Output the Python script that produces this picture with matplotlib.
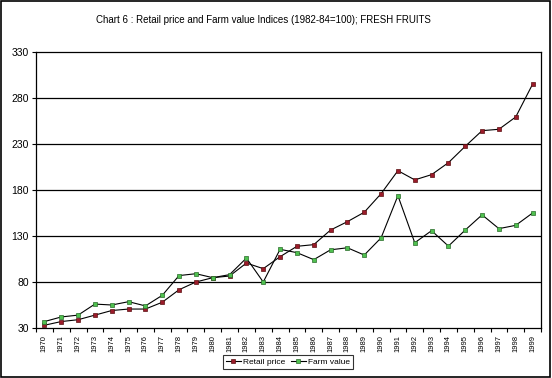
import matplotlib
matplotlib.use("Agg")
import matplotlib.pyplot as plt
from matplotlib.patches import Rectangle
import numpy as np

# --- données ---
annees = [str(a) for a in range(1970, 2000)]
prix_detail = [33, 37, 39, 44, 49, 50.6, 50.6, 58, 71.6, 80,
               84.7, 86.5, 100.6, 94.5, 107.5, 118.8, 120.6, 136.5, 145.6, 155.8,
               176, 201, 191, 196.7, 209.7, 227.5, 244.5, 246, 259.4, 295]
valeur_ferme = [37, 42, 44, 56, 55, 58.6, 54, 65.5, 87, 89,
                84.7, 88, 106, 80, 115.5, 111.9, 104.3, 115, 117.2, 109.3,
                128, 173.8, 122.7, 135.8, 119, 136.5, 153, 138, 141.6, 155]
graduations_y = [30, 80, 130, 180, 230, 280, 330]

plt.rcParams['font.family'] = ['Liberation Sans', 'DejaVu Sans']

fig = plt.figure(figsize=(5.52, 3.78), dpi=100)
ax = fig.add_axes([36 / 552, 50 / 378, 505 / 552, 276 / 378])

x = np.arange(len(annees))
ax.plot(x, prix_detail, '-s', color='black', linewidth=0.8, markersize=3.2,
        markerfacecolor='#9b1b2a', markeredgecolor='#5a1010', markeredgewidth=0.5,
        label='Retail price')
ax.plot(x, valeur_ferme, '-s', color='black', linewidth=0.8, markersize=3.2,
        markerfacecolor='#4fc04f', markeredgecolor='#2a6a2a', markeredgewidth=0.5,
        label='Farm value')

ax.set_xlim(-0.5, len(annees) - 0.5)
ax.set_ylim(30, 330)
ax.set_yticks(graduations_y)
ax.set_yticklabels([str(v) for v in graduations_y], fontsize=7.5)
for v in graduations_y[1:-1]:
    ax.axhline(v, color='black', linewidth=0.9, zorder=0)

ax.set_xticks(x)
ax.set_xticklabels(annees, rotation=90, fontsize=5.5)
ax.set_xticks(np.arange(-0.5, len(annees)), minor=True)
ax.tick_params(axis='x', which='major', length=0, pad=5)
ax.tick_params(axis='x', which='minor', length=3, width=0.8, direction='out')
ax.tick_params(axis='y', length=3, width=0.8, pad=2)
for s in ax.spines.values():
    s.set_linewidth(0.9)

fig.text(0.478, 0.948, 'Chart 6 : Retail price and Farm value Indices (1982-84=100); FRESH FRUITS',
         ha='center', va='center', fontsize=7)

leg = fig.legend(loc='center', bbox_to_anchor=(288 / 552, 1 - 362 / 378), ncol=2,
                 fontsize=6, frameon=True, fancybox=False, edgecolor='black',
                 handlelength=1.8, columnspacing=0.6, handletextpad=0.3,
                 borderpad=0.35, borderaxespad=0.2, markerscale=0.9)
leg.get_frame().set_linewidth(0.8)

fig.patches.append(Rectangle((0.002, 0.003), 0.995, 0.994, transform=fig.transFigure,
                             fill=False, edgecolor='black', linewidth=1.2))

fig.savefig('out.png', dpi=100)
